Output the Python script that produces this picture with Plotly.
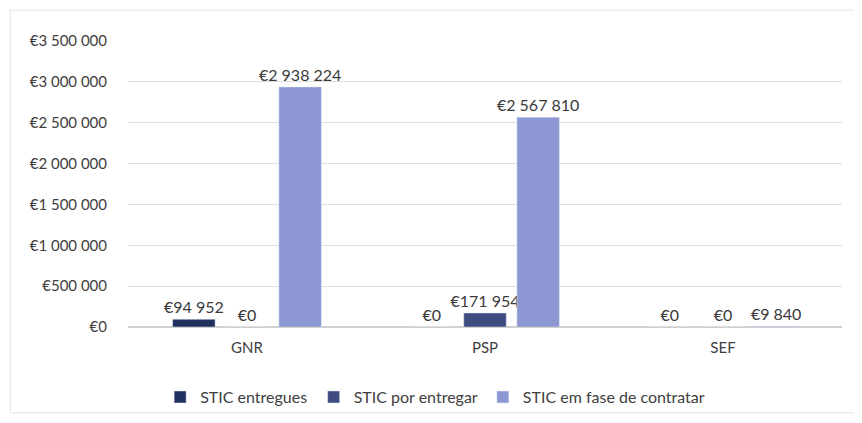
import plotly.graph_objects as go

# Dados
categorias = ["GNR", "PSP", "SEF"]
entregues = [94952, 0, 0]
por_entregar = [0, 171954, 0]
em_contratacao = [2938224, 2567810, 9840]
y_ticks = [0, 500000, 1000000, 1500000, 2000000, 2500000, 3000000, 3500000]


def euro(v):
    return "€" + f"{v:,d}".replace(",", " ")


series = [
    ("STIC entregues", entregues, "#22305f"),
    ("STIC por entregar", por_entregar, "#3e4a80"),
    ("STIC em fase de contratar", em_contratacao, "#8c97d3"),
]
legendas = ["legend", "legend2", "legend3"]
legenda_x = [0.045, 0.26, 0.497]

fig = go.Figure()
for (nome, valores, cor), leg in zip(series, legendas):
    fig.add_trace(go.Bar(
        x=categorias,
        y=valores,
        name=nome,
        marker_color=cor,
        legend=leg,
        text=[euro(v) for v in valores],
        textposition="outside",
        constraintext="none",
        cliponaxis=False,
        textfont=dict(size=16, color="#3a3a3a"),
    ))

legenda_base = dict(
    orientation="h",
    xanchor="left",
    y=-0.245,
    yanchor="middle",
    font=dict(size=16, color="#404040"),
    itemwidth=30,
    bgcolor="rgba(0,0,0,0)",
)

# a página tem 8px de margem no body, por isso a figura é um pouco menor
fig.update_layout(
    width=854,
    height=415,
    barmode="group",
    bargap=0.33,
    bargroupgap=0.2,
    font=dict(family="Lato, Liberation Sans, sans-serif", size=14, color="#404040"),
    plot_bgcolor="white",
    paper_bgcolor="white",
    margin=dict(l=120, r=20, t=33, b=96, autoexpand=False),
    showlegend=True,
    legend=dict(legenda_base, x=legenda_x[0]),
    legend2=dict(legenda_base, x=legenda_x[1]),
    legend3=dict(legenda_base, x=legenda_x[2]),
)

fig.update_yaxes(
    range=[0, 3500000],
    tickvals=y_ticks,
    ticktext=[euro(v) for v in y_ticks],
    tickfont=dict(size=15),
    showgrid=True,
    gridcolor="#dedede",
    zeroline=True,
    zerolinecolor="#d0d0d0",
    ticks="",
    ticklabelstandoff=20,
)
fig.update_xaxes(showgrid=False, ticks="", showline=False,
                 ticklabelstandoff=10, tickfont=dict(size=15))

# moldura suave do gráfico
fig.add_shape(type="rect", xref="paper", yref="paper",
              x0=-0.165, x1=1.022, y0=-0.3, y1=1.108,
              line=dict(color="#e4e4e4", width=1))

fig.write_html("out.html")
